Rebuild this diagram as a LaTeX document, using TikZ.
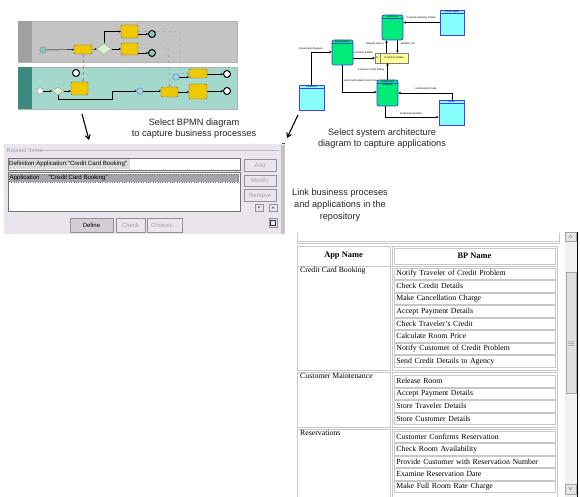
\documentclass[tikz,border=0pt]{standalone}
\usepackage{fontspec}
\setmainfont{Liberation Serif}
\newfontfamily\uifont{Liberation Sans}
\usetikzlibrary{arrows.meta,shapes.geometric}

\definecolor{poolgrey}{RGB}{196,196,196}
\definecolor{poolhead}{RGB}{160,160,160}
\definecolor{poolteal}{RGB}{164,216,204}
\definecolor{tealhead}{RGB}{61,138,128}
\definecolor{taskyellow}{RGB}{240,200,0}
\definecolor{gatefill}{RGB}{216,240,208}
\definecolor{evteal}{RGB}{136,200,192}
\definecolor{archgreen}{RGB}{0,236,120}
\definecolor{archblue}{RGB}{64,64,240}
\definecolor{archcyan}{RGB}{136,255,255}
\definecolor{storeyellow}{RGB}{255,255,153}
\definecolor{panelbg}{RGB}{234,228,236}
\definecolor{btnline}{RGB}{150,144,150}
\definecolor{greytext}{RGB}{168,160,168}
\definecolor{selrow}{RGB}{168,164,172}
\definecolor{cellline}{RGB}{200,200,200}

\tikzset{
  task/.style={draw=black!60, fill=taskyellow, rounded corners=1pt, inner sep=0pt},
  gate/.style={diamond, draw=black!40, fill=gatefill, inner sep=0pt},
  evstart/.style={circle, draw=black!50, fill=evteal, minimum size=6.5pt, inner sep=0pt},
  evend/.style={circle, draw=black, line width=1pt, fill=evteal, minimum size=7pt, inner sep=0pt},
  evmid/.style={circle, draw=blue!60, fill=poolteal, minimum size=6.5pt, inner sep=0pt},
  flow/.style={-{Stealth[length=2pt,width=2pt]}, black, line width=0.4pt},
  msgflow/.style={-{Stealth[length=2pt,width=2pt]}, black!45, dashed, line width=0.4pt},
  appbox/.style={draw=archblue, line width=0.8pt, fill=archgreen, rounded corners=2pt, inner sep=0pt},
  extbox/.style={draw=archblue, line width=0.8pt, fill=archcyan, inner sep=0pt},
  datalink/.style={-{Stealth[length=2.5pt,width=2.5pt]}, black, line width=0.5pt},
  tiny/.style={font=\uifont\fontsize{2.5}{3}\selectfont, inner sep=0pt},
  caption/.style={font=\uifont\fontsize{9.2}{11}\selectfont, align=center, text=black!85},
  pointer/.style={-{Straight Barb[length=4pt,width=5pt]}, black, line width=1.1pt},
  btn/.style={draw=btnline, fill=panelbg, inner sep=0pt, font=\uifont\fontsize{6}{7}\selectfont},
  field/.style={draw=black!55, fill=white},
  bpcell/.style={draw=cellline, line width=0.8pt, text width=157pt, inner xsep=2pt, inner ysep=0pt,
    minimum height=11.5pt, align=left, font=\fontsize{7.8}{9}\selectfont},
  apptext/.style={anchor=west, inner sep=0pt, font=\fontsize{7.8}{9}\selectfont},
  headtext/.style={inner sep=0pt, font=\bfseries\fontsize{8.4}{10}\selectfont},
}

\begin{document}
\begin{tikzpicture}[x=1pt, y=-1pt]

  % Page and margins
  \fill[white] (0,0) rectangle (580,497);
  \useasboundingbox (0,0) rectangle (580,497);

  % BPMN diagram: two pools
  \draw[fill=poolgrey, draw=black!30] (18,21) rectangle (237,62);
  \fill[poolhead] (18,21) rectangle (32,62);
  \draw[fill=poolteal, draw=black!30] (18,67) rectangle (237,109);
  \fill[tealhead] (18,67) rectangle (32,109);

  % Upper pool
  \node[evstart] (gs) at (43,50) {};
  \node[task, minimum width=18pt, minimum height=9pt] (gt1) at (83,49.5) {};
  \node[gate, minimum width=15pt, minimum height=11pt] (gg) at (104,49) {};
  \node[task, minimum width=17pt, minimum height=13pt] (gt2) at (129.5,31.5) {};
  \node[task, minimum width=17pt, minimum height=12pt] (gt3) at (129.5,49) {};
  \node[evend] (ge1) at (152,34) {};
  \node[evend] (ge2) at (152,53) {};
  \draw[flow] (gs) -- (gt1);
  \draw[flow] (gt1) -- (gg);
  \draw[flow] (gg.north) |- (gt2.west);
  \draw[flow] (gg.east) -- (gt3.west);
  \draw[flow] (gt2.east |- ge1) -- (ge1);
  \draw[flow] (gt3.east |- ge2) -- (ge2);

  % Lower pool
  \node[evstart, fill=white] (ts) at (40,91) {};
  \node[gate, minimum width=12pt, minimum height=8pt] (tg) at (58,91) {};
  \node[task, minimum width=17pt, minimum height=13pt] (tt1) at (79.5,88.5) {};
  \node[evend, fill=white] (te1) at (76,73) {};
  \node[evmid] (ti1) at (140,91) {};
  \node[task, minimum width=17pt, minimum height=10pt] (tt2) at (169.5,92) {};
  \node[evmid] (ti2) at (176,77) {};
  \node[task, minimum width=18pt, minimum height=9pt] (tt3) at (198,73.5) {};
  \node[task, minimum width=18pt, minimum height=15pt] (tt4) at (198,91.5) {};
  \node[evend, fill=white] (te2) at (227,74) {};
  \node[evend, fill=white] (te3) at (227,91) {};
  \coordinate (tbend) at (112,99);
  \draw[flow] (ts) -- (tg);
  \draw[flow] (tg) -- (tt1.west |- tg);
  \draw[flow] (tg.south) |- (tbend) |- (ti1.west);
  \draw[flow] (ti1) -- (tt2.west |- ti1);
  \draw[flow] (tt2.east) -- (tt4.west |- tt2.east);
  \draw[flow] (ti2) -- (tt3.west |- ti2);
  \draw[flow] (tt3.east |- te2) -- (te2);
  \draw[flow] (tt4.east |- te3) -- (te3);

  % Message flows between pools
  \coordinate (m1) at (180,32);
  \coordinate (m2) at (168,48);
  \draw[msgflow] (gt2.east) -- (m1) |- (tt3.west);
  \draw[msgflow] (gt3.east |- m2) -- (m2) -- (tt2.north);
  \draw[msgflow] (gt1.south) -- (tt1.north -| gt1.south);

  % System architecture diagram
  \node[appbox, minimum width=21pt, minimum height=25pt] (ares) at (342.5,52.5) {};
  \node[appbox, minimum width=21pt, minimum height=25pt] (acm) at (392.5,27.5) {};
  \node[appbox, minimum width=21pt, minimum height=26pt] (acc) at (387.5,93) {};
  \node[draw=black!50, fill=storeyellow, minimum width=33pt, minimum height=10pt, inner sep=0pt] (ads) at (391.5,58) {};
  \node[extbox, minimum width=24pt, minimum height=25pt] (xtop) at (452,22.5) {};
  \node[extbox, minimum width=25pt, minimum height=25pt] (xleft) at (311.5,97.5) {};
  \node[extbox, minimum width=25pt, minimum height=25pt] (xbot) at (451.5,112.5) {};
  \foreach \b in {ares,acm,acc,xtop,xleft,xbot}
    \draw[archblue, line width=0.5pt] ([yshift=-4pt]\b.north west) -- ([yshift=-4pt]\b.north east);
  \draw[black!50] ([xshift=5pt]ads.north west) -- ([xshift=5pt]ads.south west);
  \node[tiny] at ([yshift=-2pt]ares.north) {Reservations};
  \node[tiny] at ([yshift=-2pt]acm.north) {Customer};
  \node[tiny, align=center] at ([yshift=-3.5pt]acc.north) {Credit Card\\Booking};
  \node[tiny] at ([xshift=2.5pt]ads.west) {D};
  \node[tiny] at ([xshift=2.5pt]ads.center) {Customer Details};
  \node[tiny] at ([yshift=-2pt]xtop.north) {Travel Agent};
  \node[tiny] at ([yshift=-2pt]xleft.north) {Customer};
  \node[tiny] at ([yshift=-2pt]xbot.north) {Hotel};

  \coordinate (a1) at (311,52);
  \coordinate (a2) at (342,92);
  \coordinate (a3) at (452,93);
  \coordinate (a4) at (385,117);
  \draw[datalink] (xleft.north -| a1) -- (a1) -- (ares.west |- a1);
  \draw[datalink] (ares.east |- ads) -- (ads.west);
  \draw[datalink] (ares.south -| a2) -- (a2) -- (acc.west |- a2);
  \draw[datalink] (acc.north) -- (ads.south -| acc.north);
  \draw[datalink] ([xshift=-5pt]ads.north) -- ([xshift=-5pt]ads.north |- acm.south);
  \draw[datalink] ([xshift=5pt]acm.south) -- ([xshift=5pt]acm.south |- ads.north);
  \draw[datalink] (xtop.west) -- (acm.east |- xtop.west);
  \draw[datalink] (xbot.north -| a3) -- (a3) -- (acc.east |- a3);
  \draw[datalink] (acc.south -| a4) -- (a4) -- (xbot.west |- a4);
  \node[tiny] at (311,49) {Reservation Request};
  \node[tiny] at (363,53) {Customer Details};
  \node[tiny] at (360,81) {Credit Card Details, Room Price};
  \node[tiny] at (371,70) {Customer Credit Rating};
  \node[tiny] at (375,44) {Request History};
  \node[tiny] at (408,44) {Member Info};
  \node[tiny] at (421,18) {Customer Booking Details};
  \node[tiny] at (426,89) {Authorization Code};
  \node[tiny] at (411,114) {Credit Card Number};

  % Captions and pointers
  \coordinate (p1) at (82,114);
  \coordinate (p2) at (298,115);
  \draw[pointer] (p1) -- (89,140);
  \draw[pointer] (p2) -- (287,138);
  \node[caption] (cap1) at (194,128.5) {Select BPMN diagram\\to capture business processes};
  \node[caption] (cap2) at (382,138.5) {Select system architecture\\diagram to capture applications};
  \node[caption, font=\uifont\fontsize{9.2}{12}\selectfont] (cap3) at (340,205) {Link business proceses\\and applications in the\\repository};

  % Related Items panel
  \fill[panelbg] (4,144) rectangle (284,234);
  \fill[panelbg!85!black] (281,145) rectangle (285,234);
  \draw[black!70, line width=0.8pt] (281.5,143) -- (284.5,143);
  \draw[white!80!panelbg] (38,150.5) -- (279,150.5);
  \draw[greytext!70] (38,150) -- (279,150);
  \node[anchor=west, inner sep=0pt, text=greytext, font=\uifont\fontsize{5.8}{7}\selectfont] (relitems) at (6.5,150) {Related Items};
  \node[field, minimum width=232pt, minimum height=12pt, inner sep=0pt] (deffield) at (124,164) {};
  \fill[black!14] (9,159.5) rectangle (129.5,168.5);
  \node[anchor=west, inner sep=0pt, font=\uifont\fontsize{6.1}{7}\selectfont] at (9,164) {Definition:Application:"Credit Card Booking"};
  \node[field, minimum width=232pt, minimum height=39pt, inner sep=0pt] (itemlist) at (124,191.5) {};
  \draw[fill=selrow, draw=black!55, dotted, line width=0.4pt] (9.5,174) rectangle (238.5,182);
  \node[anchor=west, inner sep=0pt, font=\uifont\fontsize{6.1}{7}\selectfont] at (9.5,178) {Application\hspace{9pt}"Credit Card Booking"};
  \node[btn, text=greytext, minimum width=32pt, minimum height=12pt] (badd) at (260,165) {Add};
  \node[btn, text=greytext, minimum width=32pt, minimum height=11pt] (bmod) at (260,180.5) {Modify};
  \node[btn, text=greytext, minimum width=32pt, minimum height=12pt] (brem) at (260,195) {Remove};
  \node[btn, minimum width=8pt, minimum height=7pt] (bdown) at (259,207.5) {};
  \node[btn, minimum width=8pt, minimum height=7pt] (bup) at (273,207.5) {};
  \fill[black!60] ([shift={(-1.5pt,0.8pt)}]bdown.center) -- ([shift={(1.5pt,0.8pt)}]bdown.center) -- ([yshift=-0.9pt]bdown.center) -- cycle;
  \fill[black!60] ([shift={(-1.5pt,-0.8pt)}]bup.center) -- ([shift={(1.5pt,-0.8pt)}]bup.center) -- ([yshift=0.9pt]bup.center) -- cycle;
  \node[btn, minimum width=8pt, minimum height=9pt] (bicon) at (273,222.5) {};
  \draw[black!80, line width=0.6pt] ([shift={(1.8pt,2pt)}]bicon.south west) rectangle ([shift={(-1.8pt,-2.5pt)}]bicon.north east);
  \node[btn, fill=panelbg!90!black, minimum width=43pt, minimum height=14pt] (bdefine) at (91.5,225) {Define};
  \node[btn, text=greytext, minimum width=29pt, minimum height=14pt] (bcheck) at (130.5,225) {Check};
  \node[btn, text=greytext, minimum width=35pt, minimum height=14pt] (bchoices) at (164.5,225) {Choices...};

  % Repository table frame
  \draw[cellline, line width=0.8pt] (297,233) -- (297,243.5) (559,233) -- (559,243.5);
  \draw[cellline, line width=0.8pt] (297,241) -- (559,241) (297,243.5) -- (559,243.5);
  \draw[cellline, line width=0.8pt] (297,246) rectangle (390,266);
  \draw[cellline, line width=0.8pt] (392,246) rectangle (557,266);
  \draw[cellline, line width=0.8pt] (394,248) rectangle (555,264);
  \node[headtext] (hdapp) at (343.5,256) {App Name};
  \node[headtext] (hdbp) at (474.5,256) {BP Name};

  % Credit Card Booking
  \draw[cellline, line width=0.8pt] (297,266) rectangle (390,370);
  \draw[cellline, line width=0.8pt] (392,266) rectangle (557,370);
  \node[apptext] (app1) at (300,271) {Credit Card Booking};
  \foreach \bp [count=\i] in {Notify Traveler of Credit Problem, Check Credit Details,
      Make Cancellation Charge, Accept Payment Details, Check Traveler's Credit,
      Calculate Room Price, Notify Customer of Credit Problem, Send Credit Details to Agency}
    \node[bpcell, anchor=north west] (ccb\i) at (394,{267.5+12.5*(\i-1)}) {\bp};

  % Customer Maintenance
  \draw[cellline, line width=0.8pt] (297,372) rectangle (390,427);
  \draw[cellline, line width=0.8pt] (392,372) rectangle (557,427);
  \node[apptext] (app2) at (300,376) {Customer Maintenance};
  \foreach \bp [count=\i] in {Release Room, Accept Payment Details,
      Store Traveler Details, Store Customer Details}
    \node[bpcell, anchor=north west] (cm\i) at (394,{375+12.5*(\i-1)}) {\bp};

  % Reservations
  \draw[cellline, line width=0.8pt] (297,497) |- (390,429) -- (390,497);
  \draw[cellline, line width=0.8pt] (392,497) |- (557,429) -- (557,497);
  \node[apptext] (app3) at (300,433) {Reservations};
  \foreach \bp [count=\i] in {Customer Confirms Reservation, Check Room Availability,
      Provide Customer with Reservation Number, Examine Reservation Date,
      Make Full Room Rate Charge}
    \node[bpcell, anchor=north west] (res\i) at (394,{430.5+12.5*(\i-1)}) {\bp};

  % Scrollbar
  \fill[black!6] (565,232) rectangle (577,497);
  \node[draw=black!35, fill=black!10, minimum width=11pt, minimum height=9pt, inner sep=0pt,
    font=\uifont\fontsize{5}{5}\selectfont] (sbup) at (570.5,237) {$\wedge$};
  \node[draw=black!35, fill=black!12, minimum width=10pt, minimum height=121pt, inner sep=0pt] (sbthumb) at (571,332.5) {};
  \draw[black!30] (568,341) -- (574,341) (568,343) -- (574,343) (568,345) -- (574,345);
  \node[draw=black!35, fill=black!10, minimum width=11pt, minimum height=10pt, inner sep=0pt,
    font=\uifont\fontsize{5}{5}\selectfont] (sbdown) at (570.5,489) {$\vee$};
  \draw[black, line width=0.8pt] (577,232) -- (577,497);

\end{tikzpicture}
\end{document}
